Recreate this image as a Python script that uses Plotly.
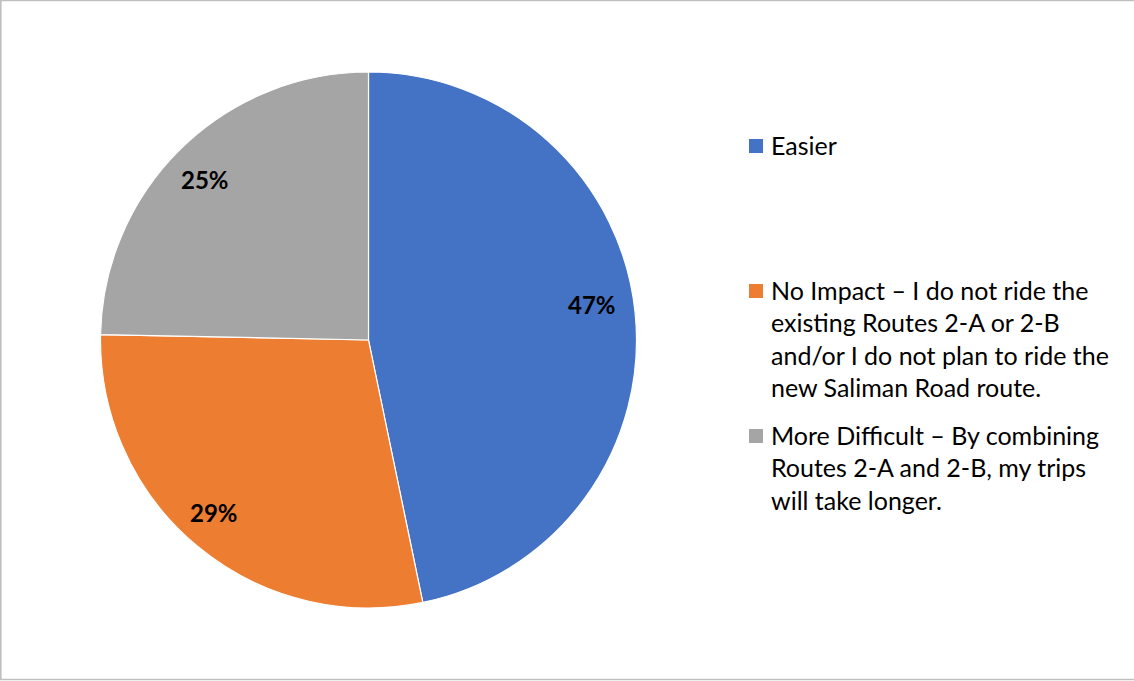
import math
import plotly.graph_objects as go

categories = ["Easier", "No Impact", "More Difficult"]
values = [46.8, 28.6, 24.7]
colors = ["#4472C4", "#ED7D31", "#A5A5A5"]
legend_lines = [
    ["Easier"],
    ["No Impact – I do not ride the",
     "existing Routes 2-A or 2-B",
     "and/or I do not plan to ride the",
     "new Saliman Road route."],
    ["More Difficult – By combining",
     "Routes 2-A and 2-B, my trips",
     "will take longer."],
]

W, H = 1134, 681
FONT = "Lato"
FS = 25

# pie geometry in pixels
cx, cy, r = 368.5, 340, 268

fig = go.Figure()
fig.add_trace(go.Pie(
    labels=categories,
    values=values,
    marker=dict(colors=colors, line=dict(color="white", width=1.2)),
    sort=False,
    direction="clockwise",
    rotation=0,
    textinfo="none",
    hoverinfo="label+percent",
    showlegend=False,
    domain=dict(x=[(cx - r) / W, (cx + r) / W], y=[1 - (cy + r) / H, 1 - (cy - r) / H]),
))

annotations = []
shapes = []

# percentage labels, positioned from the data's cumulative angles (plus small nudges)
label_nudge = [(-2, -12), (-10, -2), (-5, 1)]
total = sum(values)
cum = 0.0
for v, (ndx, ndy) in zip(values, label_nudge):
    mid = (cum + v / 2) / total * 2 * math.pi
    cum += v
    rr = 0.845 * r
    px = cx + rr * math.sin(mid) + ndx
    py = cy - rr * math.cos(mid) + ndy
    annotations.append(dict(
        x=px / W, y=1 - py / H, xref="paper", yref="paper",
        text=f"<b>{round(v / total * 100)}%</b>", showarrow=False,
        font=dict(family=FONT, size=24, color="black"),
        xanchor="center", yanchor="middle",
    ))

# legend
entry_tops = [146, 291, 436]
line_gap = 32.4
for i, (lines, col) in enumerate(zip(legend_lines, colors)):
    y0 = entry_tops[i]
    shapes.append(dict(type="rect", xref="paper", yref="paper",
                       x0=749 / W, x1=763 / W, y0=1 - (y0 - 7) / H, y1=1 - (y0 + 7) / H,
                       fillcolor=col, line=dict(width=0)))
    for j, t in enumerate(lines):
        yy = y0 + j * line_gap - 1
        annotations.append(dict(
            x=769 / W, y=1 - yy / H, xref="paper", yref="paper",
            text=t, showarrow=False, align="left",
            font=dict(family=FONT, size=FS, color="black"),
            xanchor="left", yanchor="middle",
        ))

# chart-area border
shapes.append(dict(type="rect", xref="paper", yref="paper",
                   x0=0.8 / W, x1=1.01, y0=1 - 679.5 / H, y1=1 - 0.5 / H,
                   line=dict(color="#BFBFBF", width=1.6), fillcolor="rgba(0,0,0,0)"))

fig.update_layout(
    width=W, height=H,
    margin=dict(l=0, r=0, t=0, b=0),
    paper_bgcolor="white", plot_bgcolor="white",
    annotations=annotations, shapes=shapes,
    showlegend=False,
)

fig.write_html("out.html", config={"displayModeBar": False},
               post_script="document.body.style.margin='0';document.body.style.overflow='hidden';")
